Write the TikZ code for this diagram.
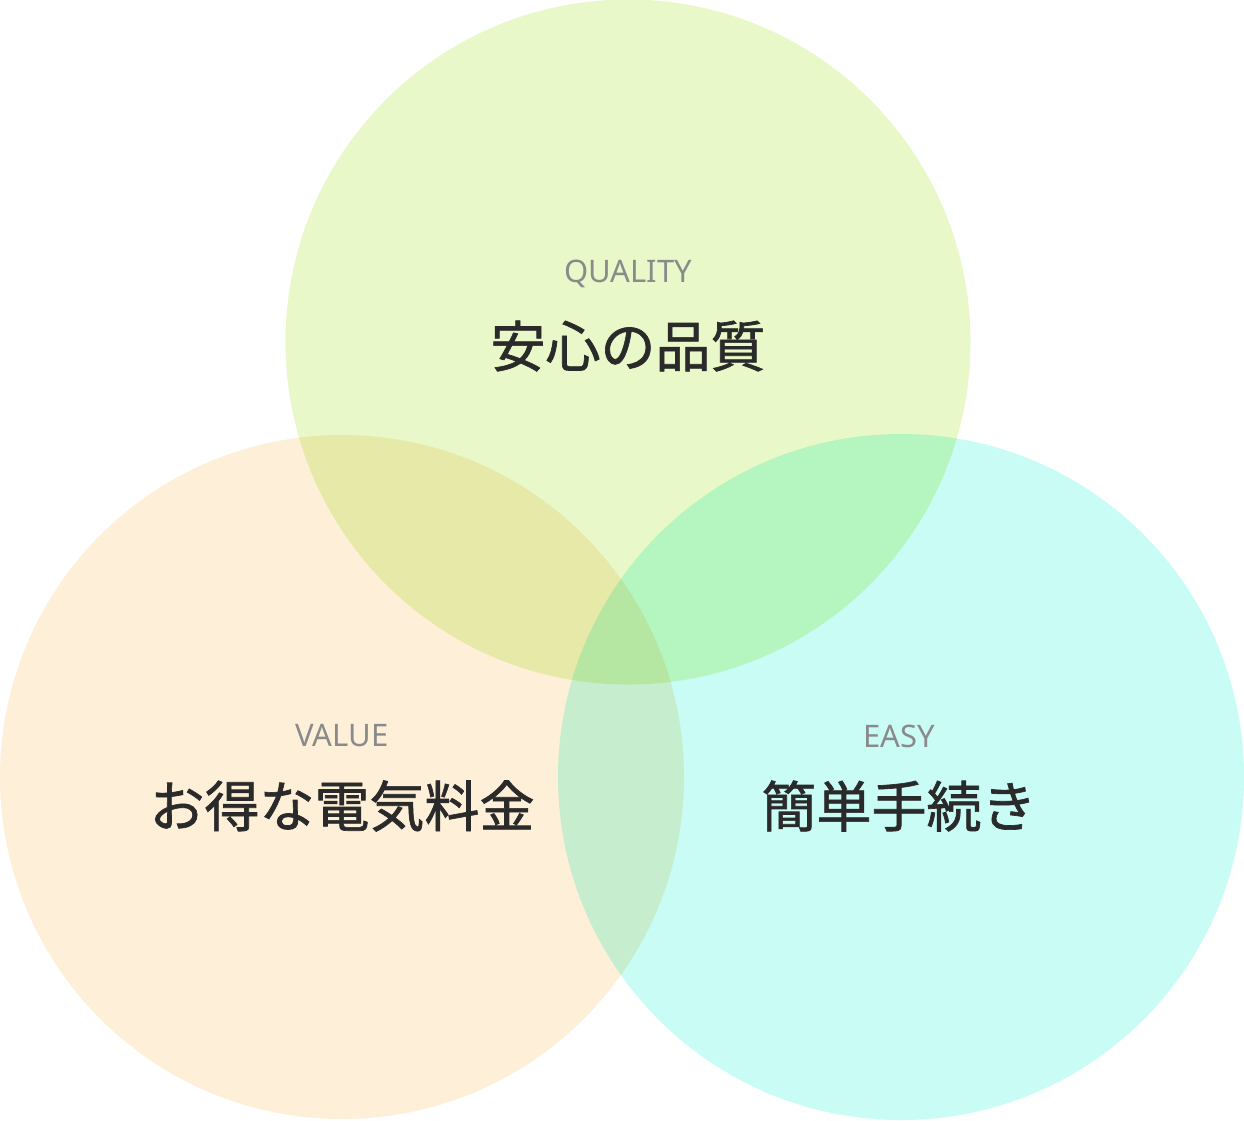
\documentclass[tikz,border=0pt]{standalone}
\usepackage{fontspec}
\setmainfont{Noto Sans}
\newfontfamily\jp[FakeBold=1.2]{Noto Sans CJK JP}
\definecolor{ctop}{HTML}{E8F8C8}
\definecolor{cleft}{HTML}{FEF0D8}
\definecolor{cright}{HTML}{C8FCF5}
\definecolor{lab}{HTML}{8A8A8A}
\definecolor{txt}{HTML}{2A2A2A}
\tikzset{en/.style={text=lab,font=\fontsize{31}{31}\selectfont},
 ja/.style={text=txt,font=\jp\fontsize{55}{55}\selectfont}}
\begin{document}
\begin{tikzpicture}[x=1pt,y=-1pt]
\useasboundingbox (0,0) rectangle (1244,1120);
\begin{scope}[blend group=multiply]
\fill[cleft] (342,777) circle[radius=342];
\fill[cright] (901,777) circle[radius=343];
\fill[ctop] (628,342) circle[radius=342.5];
\end{scope}
\node[en] (q) at (628,274) {QUALITY};
\node[ja] (qj) at (628,346) {安心の品質};
\node[en] (v) at (342,736) {VALUE};
\node[ja] (vj) at (342,806) {お得な電気料金};
\node[en] (e) at (899,736) {EASY};
\node[ja] (ej) at (899,806) {簡単手続き};
\end{tikzpicture}
\end{document}
